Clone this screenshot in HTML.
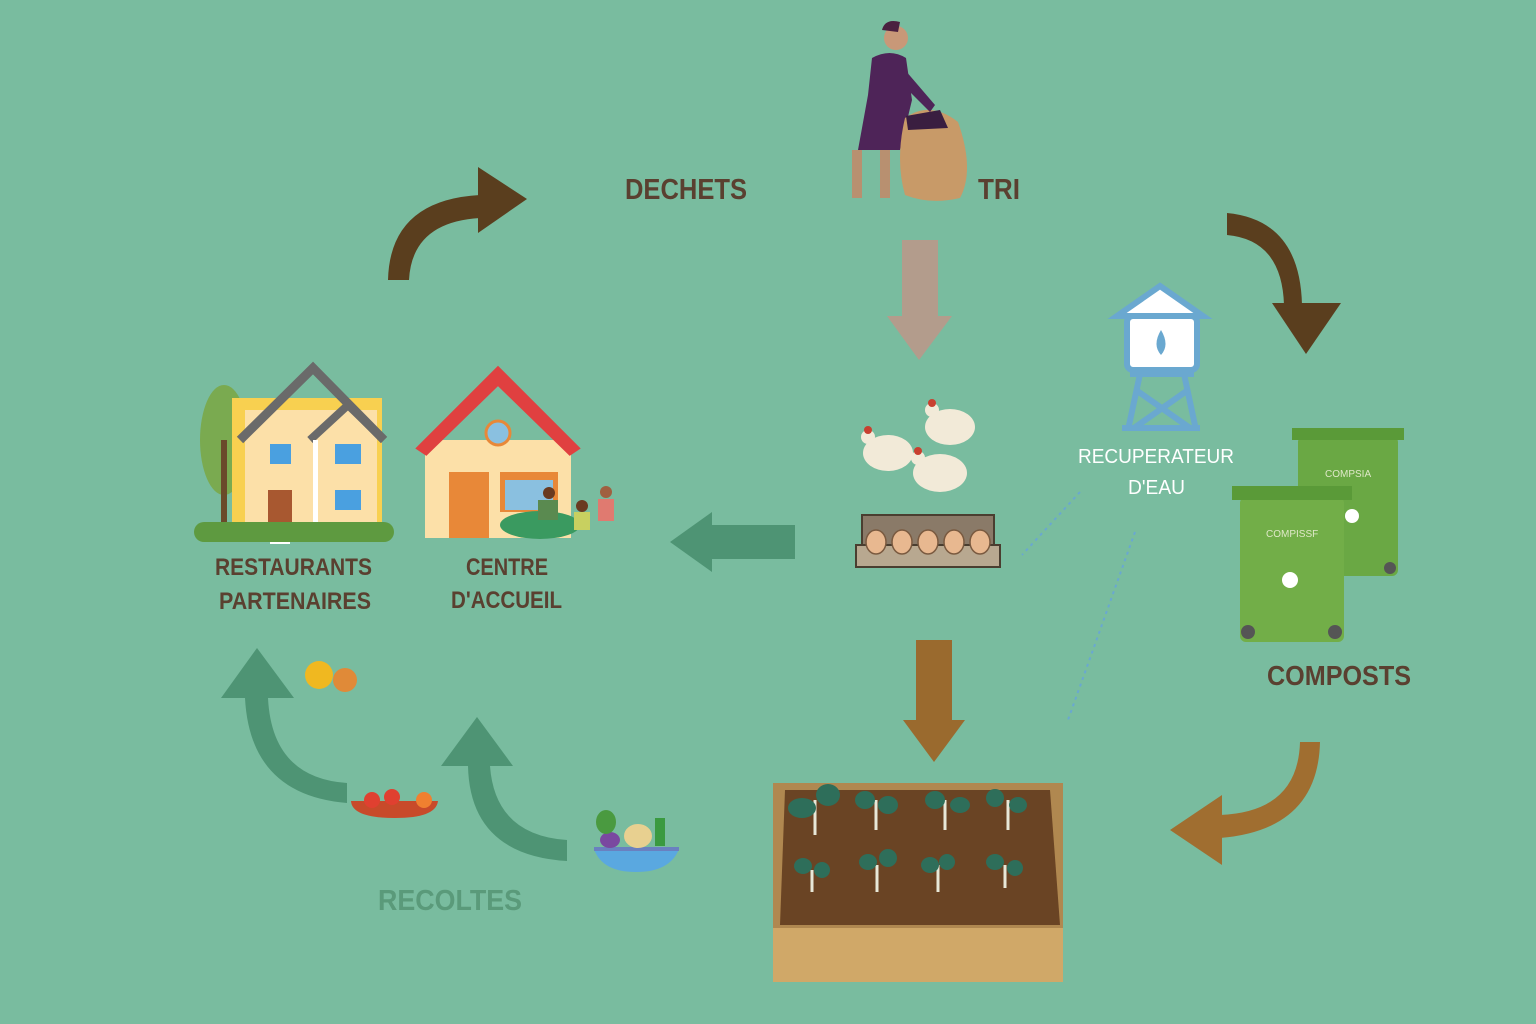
<!DOCTYPE html>
<html><head><meta charset="utf-8"><style>
html,body{margin:0;padding:0;width:1536px;height:1024px;overflow:hidden;background:#79bc9f}
svg{display:block}
.t{font-family:"Liberation Sans",sans-serif;font-weight:bold}
</style></head><body>
<svg width="1536" height="1024" viewBox="0 0 1536 1024" xmlns="http://www.w3.org/2000/svg">
<rect width="1536" height="1024" fill="#79bc9f"/>
<path d="M388 280 Q390 200 480 195 L480 218 Q412 222 409 280 Z" fill="#5a3e1e"/>
<polygon points="478,167 527,199 478,233" fill="#5a3e1e"/>
<text x="625" y="199" class="t" font-size="29" fill="#5a4030" textLength="122" lengthAdjust="spacingAndGlyphs">DECHETS</text>
<text x="978" y="199" class="t" font-size="29" fill="#5a4030" textLength="42" lengthAdjust="spacingAndGlyphs">TRI</text>
<g>
<circle cx="896" cy="38" r="12" fill="#c89878"/>
<path d="M882 30 Q885 18 900 22 L898 32 Z" fill="#4a2040"/>
<path d="M872 58 Q890 48 906 58 L912 100 L900 150 L858 150 L868 95 Z" fill="#4e2458"/>
<rect x="852" y="150" width="10" height="48" fill="#b89070"/>
<rect x="880" y="150" width="10" height="48" fill="#b89070"/>
<path d="M905 118 Q930 100 958 122 Q975 170 960 198 Q930 205 905 195 Q895 160 905 118Z" fill="#c89a68"/>
<path d="M906 116 L940 110 L948 128 L908 130 Z" fill="#3a1e40"/>
<path d="M905 70 L935 105 L930 112 L898 80Z" fill="#4e2458"/>
</g>
<rect x="902" y="240" width="36" height="78" fill="#b39c8c"/>
<polygon points="887,316 952,316 919,360" fill="#b39c8c"/>
<path d="M1227 213 Q1300 220 1302 305 L1284 305 Q1282 240 1227 235 Z" fill="#5a3e1e"/>
<polygon points="1272,303 1341,303 1306,354" fill="#5a3e1e"/>
<g stroke="#6aa8d0" fill="none" stroke-width="6">
<polygon points="1160,286 1203,316 1117,316" fill="#fff"/>
<rect x="1127" y="316" width="70" height="54" rx="6" fill="#fff"/>
<line x1="1130" y1="374" x2="1194" y2="374"/>
<line x1="1140" y1="374" x2="1128" y2="430"/><line x1="1184" y1="374" x2="1196" y2="430"/>
<line x1="1136" y1="390" x2="1190" y2="428"/><line x1="1188" y1="390" x2="1134" y2="428"/>
<line x1="1122" y1="428" x2="1200" y2="428"/>
</g>
<path d="M1161 330 Q1170 345 1161 355 Q1152 345 1161 330Z" fill="#6aa8d0"/>
<text x="1078" y="463" font-family="Liberation Sans" font-size="20" fill="#fff" textLength="156" lengthAdjust="spacingAndGlyphs">RECUPERATEUR</text>
<text x="1128" y="494" font-family="Liberation Sans" font-size="20" fill="#fff" textLength="57" lengthAdjust="spacingAndGlyphs">D'EAU</text>
<path d="M1080 492 L1022 555" stroke="#6aa8d0" stroke-width="2" stroke-dasharray="3 4" fill="none"/>
<path d="M1135 532 L1068 720" stroke="#6aa8d0" stroke-width="2" stroke-dasharray="3 4" fill="none"/>
<g fill="#f2ead8">
<ellipse cx="888" cy="453" rx="25" ry="18"/><ellipse cx="950" cy="427" rx="25" ry="18"/><ellipse cx="940" cy="473" rx="27" ry="19"/>
</g>
<circle cx="868" cy="437" r="7" fill="#f2ead8"/><circle cx="932" cy="410" r="7" fill="#f2ead8"/><circle cx="918" cy="458" r="7" fill="#f2ead8"/>
<circle cx="868" cy="430" r="4" fill="#c84030"/><circle cx="932" cy="403" r="4" fill="#c84030"/><circle cx="918" cy="451" r="4" fill="#c84030"/>
<rect x="862" y="515" width="132" height="30" fill="#8a7a68" stroke="#4a3e30" stroke-width="2"/>
<rect x="856" y="545" width="144" height="22" fill="#b8a890" stroke="#4a3e30" stroke-width="2"/>
<g fill="#e8b890" stroke="#7a5a40" stroke-width="1.5">
<ellipse cx="876" cy="542" rx="10" ry="12"/><ellipse cx="902" cy="542" rx="10" ry="12"/><ellipse cx="928" cy="542" rx="10" ry="12"/><ellipse cx="954" cy="542" rx="10" ry="12"/><ellipse cx="980" cy="542" rx="10" ry="12"/>
</g>
<rect x="710" y="525" width="85" height="34" fill="#4e9474"/>
<polygon points="712,512 712,572 670,542" fill="#4e9474"/>
<ellipse cx="224" cy="440" rx="24" ry="55" fill="#7aaa50"/>
<rect x="221" y="440" width="6" height="90" fill="#6a4a2a"/>
<rect x="232" y="398" width="150" height="128" fill="#f8d050"/>
<rect x="245" y="410" width="132" height="116" fill="#fce0a8"/>
<polyline points="240,440 313,368 384,440" fill="none" stroke="#6a6a6a" stroke-width="9"/>
<polyline points="310,440 348,405 384,440" fill="none" stroke="#6a6a6a" stroke-width="8"/>
<rect x="313" y="440" width="5" height="86" fill="#fff"/>
<rect x="270" y="444" width="21" height="20" fill="#4aa0e0"/><rect x="335" y="444" width="26" height="20" fill="#4aa0e0"/><rect x="335" y="490" width="26" height="20" fill="#4aa0e0"/>
<rect x="268" y="490" width="24" height="32" fill="#a85830"/>
<rect x="270" y="522" width="20" height="22" fill="#fff"/>
<rect x="194" y="522" width="200" height="20" rx="10" fill="#5e9a40"/>
<rect x="425" y="440" width="146" height="98" fill="#fce0a8"/>
<polygon points="420,448 498,370 576,448 570,452 498,382 426,452" fill="#e04040" stroke="#e04040" stroke-width="6"/>
<circle cx="498" cy="433" r="12" fill="#8ac0e0" stroke="#e88838" stroke-width="3"/>
<rect x="449" y="472" width="40" height="66" fill="#e88838"/>
<rect x="500" y="472" width="58" height="40" fill="#e88838"/><rect x="505" y="480" width="48" height="30" fill="#8ac0e0"/>
<ellipse cx="540" cy="525" rx="40" ry="14" fill="#3a9a60"/>
<circle cx="549" cy="493" r="6" fill="#6a3a20"/><rect x="538" y="500" width="20" height="20" fill="#5a8a50"/>
<circle cx="606" cy="492" r="6" fill="#a06040"/><rect x="598" y="499" width="16" height="22" fill="#e07a70"/>
<circle cx="582" cy="506" r="6" fill="#6a3a20"/><rect x="574" y="512" width="16" height="18" fill="#c8d060"/>
<text x="215" y="575" class="t" font-size="24" fill="#5a4030" textLength="157" lengthAdjust="spacingAndGlyphs">RESTAURANTS</text>
<text x="219" y="609" class="t" font-size="24" fill="#5a4030" textLength="152" lengthAdjust="spacingAndGlyphs">PARTENAIRES</text>
<text x="466" y="575" class="t" font-size="24" fill="#5a4030" textLength="82" lengthAdjust="spacingAndGlyphs">CENTRE</text>
<text x="451" y="608" class="t" font-size="24" fill="#5a4030" textLength="111" lengthAdjust="spacingAndGlyphs">D'ACCUEIL</text>
<rect x="1298" y="436" width="100" height="140" rx="6" fill="#6aa844"/>
<rect x="1292" y="428" width="112" height="12" fill="#5a9a38"/>
<circle cx="1390" cy="568" r="6" fill="#555"/>
<rect x="1240" y="497" width="104" height="145" rx="6" fill="#72ae48"/>
<rect x="1232" y="486" width="120" height="14" fill="#5a9a38"/>
<circle cx="1248" cy="632" r="7" fill="#555"/><circle cx="1335" cy="632" r="7" fill="#555"/>
<text x="1325" y="477" font-family="Liberation Sans" font-size="10" fill="#dfe8c8">COMPSIA</text>
<text x="1266" y="537" font-family="Liberation Sans" font-size="10" fill="#dfe8c8">COMPISSF</text>
<circle cx="1290" cy="580" r="8" fill="#fff"/><circle cx="1352" cy="516" r="7" fill="#fff"/>
<text x="1267" y="685" class="t" font-size="28" fill="#5a4030" textLength="144" lengthAdjust="spacingAndGlyphs">COMPOSTS</text>
<rect x="916" y="640" width="36" height="82" fill="#9a6a2e"/>
<polygon points="903,720 965,720 934,762" fill="#9a6a2e"/>
<path d="M1300 742 L1320 742 Q1318 830 1220 838 L1220 815 Q1298 812 1300 742 Z" fill="#a06e30"/>
<polygon points="1222,795 1222,865 1170,830" fill="#a06e30"/>
<rect x="773" y="783" width="290" height="198" fill="#b08850"/>
<rect x="773" y="928" width="290" height="54" fill="#d0a868"/>
<polygon points="785,790 1050,790 1060,925 780,925" fill="#6a4424"/>
<g stroke="#e8e8d8" stroke-width="3" fill="none">
<path d="M815 835 L815 800"/><path d="M876 830 L876 800"/><path d="M945 830 L945 800"/><path d="M1008 830 L1008 800"/>
<path d="M812 892 L812 870"/><path d="M877 892 L877 865"/><path d="M938 892 L938 865"/><path d="M1005 888 L1005 865"/>
</g>
<g fill="#2e6e5a">
<ellipse cx="802" cy="808" rx="14" ry="10"/><ellipse cx="828" cy="795" rx="12" ry="11"/>
<ellipse cx="865" cy="800" rx="10" ry="9"/><ellipse cx="888" cy="805" rx="10" ry="9"/>
<ellipse cx="935" cy="800" rx="10" ry="9"/><ellipse cx="960" cy="805" rx="10" ry="8"/>
<ellipse cx="995" cy="798" rx="9" ry="9"/><ellipse cx="1018" cy="805" rx="9" ry="8"/>
<ellipse cx="803" cy="866" rx="9" ry="8"/><ellipse cx="822" cy="870" rx="8" ry="8"/>
<ellipse cx="868" cy="862" rx="9" ry="8"/><ellipse cx="888" cy="858" rx="9" ry="9"/>
<ellipse cx="930" cy="865" rx="9" ry="8"/><ellipse cx="947" cy="862" rx="8" ry="8"/>
<ellipse cx="995" cy="862" rx="9" ry="8"/><ellipse cx="1015" cy="868" rx="8" ry="8"/>
</g>
<path d="M347 783 L347 803 Q250 795 245 698 L268 698 Q272 778 347 783 Z" fill="#4e9474"/>
<polygon points="221,698 294,698 257,648" fill="#4e9474"/>
<path d="M567 840 L567 861 Q470 855 468 766 L490 766 Q495 835 567 840 Z" fill="#4e9474"/>
<polygon points="441,766 513,766 477,717" fill="#4e9474"/>
<circle cx="319" cy="675" r="14" fill="#f0b820"/><circle cx="345" cy="680" r="12" fill="#e08a38"/>
<path d="M351 801 Q352 818 395 818 Q436 818 438 801 Z" fill="#c84a2a"/>
<circle cx="372" cy="800" r="8" fill="#e04030"/><circle cx="392" cy="797" r="8" fill="#e04030"/><circle cx="424" cy="800" r="8" fill="#f08030"/>
<path d="M594 849 L679 849 Q670 872 636 872 Q602 872 594 849Z" fill="#5aa8e0"/>
<rect x="594" y="847" width="85" height="4" fill="#6a80c0"/>
<ellipse cx="610" cy="840" rx="10" ry="8" fill="#7a48a0"/><ellipse cx="638" cy="836" rx="14" ry="12" fill="#e8d090"/>
<rect x="655" y="818" width="10" height="28" fill="#3a9a40"/><ellipse cx="606" cy="822" rx="10" ry="12" fill="#4a9a40"/>
<text x="378" y="910" class="t" font-size="29" fill="#5a9a7a" textLength="144" lengthAdjust="spacingAndGlyphs">RECOLTES</text>
</svg>
</body></html>
